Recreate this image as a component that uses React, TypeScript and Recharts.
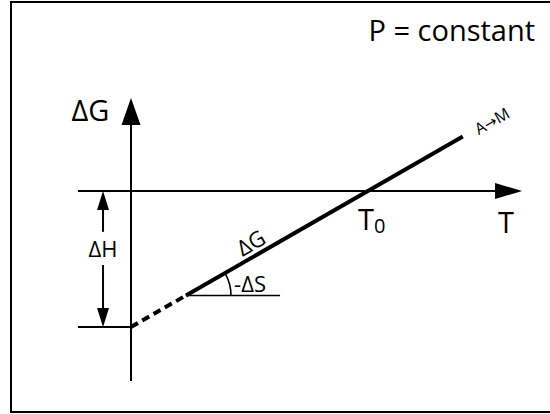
import React from 'react';
import { ComposedChart, Line, XAxis, YAxis, Scatter, ReferenceLine } from 'recharts';

// Data (T in units of T0, ΔG in units of ΔH)
const SOLID_T = [0.232, 1.4];
const SOLID_G = [-0.768, 0.4];
const DASH_T = [0, 0.232];
const DASH_G = [-1, -0.768];

const ARROW_T = [0, 1.65, -0.118, -0.118];
const ARROW_G = [0.684, 0, 0, -1];
const ARROW_DIR = ['up', 'right', 'up', 'down'];
const ARROW_KIND = ['axis', 'axis', 'dim', 'dim'];

const LABEL_TEXT = ['ΔG', 'P = constant', 'T', 'T0', 'ΔH', '-ΔS', 'ΔG', 'A→M'];
const LABEL_T = [-0.171, 1.705, 1.582, 0.958, -0.118, 0.435, 0.506, 1.523];
const LABEL_G = [0.515, 1.103, -0.309, -0.287, -0.485, -0.743, -0.382, 0.515];

const ANGLE_T = [0.232];
const ANGLE_G = [-0.768];

const solidData = SOLID_T.map((T, i) => ({ T, G: SOLID_G[i] }));
const dashData = DASH_T.map((T, i) => ({ T, G: DASH_G[i] }));
const arrowData = ARROW_T.map((T, i) => ({ T, G: ARROW_G[i], dir: ARROW_DIR[i], kind: ARROW_KIND[i] }));
const labelData = LABEL_TEXT.map((text, i) => ({ T: LABEL_T[i], G: LABEL_G[i], text, idx: i }));
const angleData = ANGLE_T.map((T, i) => ({ T, G: ANGLE_G[i] }));

const X_DOMAIN: [number, number] = [-131 / 237, 419 / 237];
const Y_DOMAIN: [number, number] = [-223 / 136, 191 / 136];

const FONT = '"Open Sans", sans-serif';

const ArrowShape = (props: any) => {
  const { cx, cy, payload } = props;
  const big = payload.kind === 'axis';
  const len = big ? 27 : 19;
  let pts = '';
  if (payload.dir === 'up') {
    const w = big ? 19 : 12;
    pts = `${cx},${cy} ${cx - w / 2},${cy + len} ${cx + w / 2},${cy + len}`;
  } else if (payload.dir === 'down') {
    const w = 12;
    pts = `${cx},${cy} ${cx - w / 2},${cy - len} ${cx + w / 2},${cy - len}`;
  } else {
    const w = 16;
    pts = `${cx},${cy} ${cx - len},${cy - w / 2} ${cx - len},${cy + w / 2}`;
  }
  return <polygon points={pts} fill="#000" />;
};

const AngleShape = (props: any) => {
  const { cx, cy } = props;
  const r = 45;
  const a = (29.86 * Math.PI) / 180;
  return (
    <path
      d={`M${cx + r},${cy} A${r},${r} 0 0 0 ${cx + r * Math.cos(a)},${cy - r * Math.sin(a)}`}
      fill="none"
      stroke="#000"
      strokeWidth={1.6}
    />
  );
};

const LabelShape = (props: any) => {
  const { cx, cy, payload } = props;
  const i = payload.idx;
  const common = { fontFamily: FONT, fill: '#000' } as any;
  switch (i) {
    case 0:
      return <text x={cx} y={cy} textAnchor="middle" fontSize={29} {...common}>{payload.text}</text>;
    case 1:
      return <text x={cx} y={cy} textAnchor="end" fontSize={29} {...common}>{payload.text}</text>;
    case 2:
      return <text x={cx} y={cy} textAnchor="middle" fontSize={29} {...common}>{payload.text}</text>;
    case 3:
      return (
        <text x={cx} y={cy} textAnchor="start" fontSize={29} {...common}>
          T<tspan fontSize={20} dy={3}>0</tspan>
        </text>
      );
    case 4:
      return <text x={cx} y={cy} textAnchor="middle" fontSize={22} {...common}>{payload.text}</text>;
    case 5:
      return <text x={cx} y={cy} textAnchor="start" fontSize={22} {...common}>{payload.text}</text>;
    case 6:
      return (
        <text x={cx} y={cy} dy="0.36em" textAnchor="middle" fontSize={22} transform={`rotate(-29.86 ${cx} ${cy})`} {...common}>
          {payload.text}
        </text>
      );
    default:
      return (
        <text x={cx} y={cy} dy="0.36em" textAnchor="middle" fontSize={16} transform={`rotate(-29.86 ${cx} ${cy})`} {...common}>
          A<tspan fontFamily='"DejaVu Sans", sans-serif' fontSize={15}>→</tspan>M
        </text>
      );
  }
};

export default function App() {
  return (
    <div style={{ position: 'absolute', left: 0, top: 0, width: 550, height: 414, background: '#fff', overflow: 'hidden' }}>
      <div
        style={{
          position: 'absolute',
          left: 10,
          top: 1,
          width: 545,
          height: 412,
          border: '2px solid #000',
          boxSizing: 'border-box',
        }}
      />
      <div style={{ position: 'absolute', left: 0, top: 0 }}>
        <ComposedChart width={550} height={414} margin={{ top: 0, right: 0, bottom: 0, left: 0 }}>
          <XAxis dataKey="T" type="number" domain={X_DOMAIN} allowDataOverflow hide />
          <YAxis dataKey="G" type="number" domain={Y_DOMAIN} allowDataOverflow hide />
          {/* axes */}
          <ReferenceLine segment={[{ x: 0, y: -1.397 }, { x: 0, y: 0.485 }]} stroke="#000" strokeWidth={2} ifOverflow="visible" />
          <ReferenceLine segment={[{ x: -0.224, y: 0 }, { x: 1.536, y: 0 }]} stroke="#000" strokeWidth={2} ifOverflow="visible" />
          {/* ΔH dimension */}
          <ReferenceLine segment={[{ x: -0.224, y: -1 }, { x: 0, y: -1 }]} stroke="#000" strokeWidth={2} ifOverflow="visible" />
          <ReferenceLine segment={[{ x: -0.118, y: -0.1 }, { x: -0.118, y: -0.3 }]} stroke="#000" strokeWidth={2} ifOverflow="visible" />
          <ReferenceLine segment={[{ x: -0.118, y: -0.544 }, { x: -0.118, y: -0.9 }]} stroke="#000" strokeWidth={2} ifOverflow="visible" />
          {/* -ΔS reference */}
          <ReferenceLine segment={[{ x: 0.232, y: -0.768 }, { x: 0.629, y: -0.768 }]} stroke="#000" strokeWidth={1.6} ifOverflow="visible" />
          <Line data={dashData} dataKey="G" stroke="#000" strokeWidth={4} strokeDasharray="8 5" dot={false} isAnimationActive={false} />
          <Line data={solidData} dataKey="G" stroke="#000" strokeWidth={4} dot={false} isAnimationActive={false} />
          <Scatter data={arrowData} dataKey="G" shape={ArrowShape} isAnimationActive={false} />
          <Scatter data={angleData} dataKey="G" shape={AngleShape} isAnimationActive={false} />
          <Scatter data={labelData} dataKey="G" shape={LabelShape} isAnimationActive={false} />
        </ComposedChart>
      </div>
    </div>
  );
}
